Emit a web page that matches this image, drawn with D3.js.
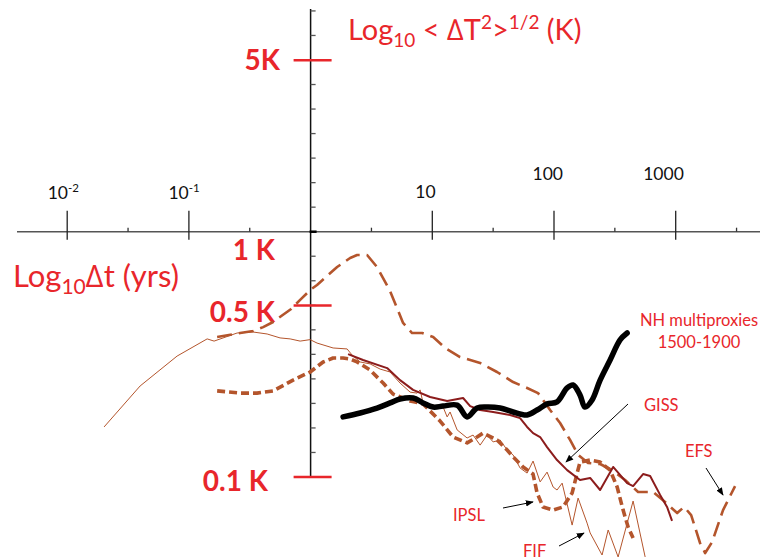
<!DOCTYPE html>
<html><head><meta charset="utf-8">
<script src="https://cdn.jsdelivr.net/npm/d3@7/dist/d3.min.js"></script>
<style>body{margin:0;background:#fff}svg{display:block}</style>
</head><body>
<svg id="chart" width="761" height="560"></svg>
<script>
// ---- Data: log10(Δt in years) and log10(RMS ΔT in K) ----
const fifLogDt = [-1.697,-1.401,-1.097,-0.850,-0.793,-0.604,-0.472,-0.357,-0.251,-0.168,-0.086,-0.004,0.053,0.185,0.300,0.341,0.407,0.489,0.571,0.653,0.735,0.818,0.875,0.900,0.924,1.007,1.089,1.122,1.146,1.204,1.286,1.335,1.393,1.450,1.500,1.557,1.615,1.664,1.721,1.779,1.828,1.886,1.943,1.993,2.025,2.067,2.149,2.198,2.272,2.297,2.395,2.445,2.527,2.650,2.749];
const fifLogT  = [-0.796,-0.629,-0.507,-0.437,-0.446,-0.413,-0.409,-0.417,-0.433,-0.437,-0.446,-0.440,-0.454,-0.474,-0.478,-0.503,-0.531,-0.539,-0.560,-0.572,-0.617,-0.654,-0.658,-0.645,-0.698,-0.707,-0.715,-0.755,-0.735,-0.808,-0.841,-0.829,-0.870,-0.829,-0.857,-0.849,-0.890,-0.910,-0.963,-0.984,-0.935,-1.020,-0.980,-1.041,-1.053,-1.025,-1.196,-1.086,-1.188,-1.228,-1.318,-1.216,-1.326,-1.098,-1.326];

const gissLogDt = [0.308,0.431,0.629,0.735,0.842,0.982,1.122,1.253,1.311,1.393,1.500,1.639,1.721,1.779,1.828,1.886,1.943,2.025,2.108,2.214,2.297,2.379,2.486,2.601,2.650,2.732,2.790,2.872,2.929,2.970];
const gissLogT  = [-0.499,-0.523,-0.556,-0.605,-0.645,-0.674,-0.690,-0.678,-0.711,-0.727,-0.735,-0.747,-0.760,-0.796,-0.821,-0.837,-0.878,-0.931,-0.972,-1.012,-1.004,-1.053,-0.959,-1.025,-1.037,-0.988,-0.996,-1.073,-1.122,-1.179];

const ipslLogDt = [-0.768,-0.579,-0.440,-0.308,-0.144,-0.004,0.103,0.185,0.267,0.325,0.382,0.489,0.596,0.678,0.818,0.924,1.064,1.171,1.286,1.368,1.417,1.532,1.615,1.664,1.746,1.828,1.861,1.910,1.993,2.075,2.149,2.190,2.214,2.297,2.379,2.461,2.519,2.568,2.609,2.650];
const ipslLogT  = [-0.649,-0.658,-0.658,-0.649,-0.605,-0.572,-0.531,-0.515,-0.515,-0.519,-0.531,-0.564,-0.617,-0.662,-0.690,-0.702,-0.772,-0.837,-0.861,-0.837,-0.821,-0.849,-0.890,-0.918,-0.959,-0.988,-1.065,-1.122,-1.135,-1.122,-1.065,-0.984,-0.939,-0.931,-0.939,-0.972,-1.041,-1.135,-1.204,-1.249];

const efsLogDt = [-0.768,-0.579,-0.472,-0.390,-0.308,-0.160,-0.086,-0.004,0.053,0.218,0.325,0.382,0.464,0.546,0.653,0.760,0.834,0.916,1.007,1.105,1.228,1.393,1.532,1.664,1.779,1.869,1.968,2.050,2.132,2.198,2.280,2.379,2.477,2.584,2.691,2.814,2.913,3.012,3.069,3.127,3.200,3.242,3.299,3.389,3.488];
const efsLogT  = [-0.429,-0.413,-0.405,-0.389,-0.368,-0.315,-0.278,-0.238,-0.217,-0.144,-0.107,-0.095,-0.095,-0.144,-0.242,-0.372,-0.413,-0.413,-0.429,-0.474,-0.511,-0.535,-0.572,-0.613,-0.637,-0.658,-0.727,-0.780,-0.849,-0.910,-0.943,-0.947,-0.972,-1.012,-1.061,-1.061,-1.102,-1.147,-1.122,-1.155,-1.269,-1.310,-1.265,-1.135,-1.037];

const nhLogDt = [0.267,0.407,0.546,0.653,0.735,0.842,0.924,1.007,1.089,1.204,1.286,1.368,1.450,1.557,1.664,1.779,1.861,1.943,2.025,2.108,2.157,2.214,2.255,2.313,2.379,2.461,2.543,2.601];
const nhLogT  = [-0.755,-0.739,-0.719,-0.698,-0.682,-0.678,-0.698,-0.715,-0.711,-0.707,-0.755,-0.719,-0.715,-0.719,-0.735,-0.747,-0.727,-0.702,-0.694,-0.637,-0.625,-0.666,-0.715,-0.686,-0.605,-0.523,-0.441,-0.413];

// ticks
const xMajorTicks = [-2, -1, 1, 2, 3];
const xTickBase   = ["10", "10", "10", "100", "1000"];
const xTickExp    = ["-2", "-1", "", "", ""];
const xMinorTicks = [-1.5, -0.5, 0.5, 1.5, 2.5, 3.5];
const yMinorTicks = d3.range(-10, 10).map(i => i / 10);
const yRedTicks   = [0.699, -0.301, -1];
const yKLabels    = ["5K", "1 K", "0.5 K", "0.1 K"];
const yKLabelVals = [0.699, 0, -0.301, -1];

// ---- Drawing ----
const RED = "#e8262b", BROWN = "#b4552c", DARKRED = "#8c1c1c";
const svg = d3.select("#chart");
const FONT = "Lato, 'Open Sans', sans-serif";
const x = d3.scaleLinear().domain([-2, 3]).range([67.2, 675.7]);
const y = d3.scaleLinear().domain([0, -1]).range([231.7, 477]);
const x0 = x(0), y0 = y(0);

// x axis line
svg.append("line").attr("x1", 17).attr("x2", 760).attr("y1", y0).attr("y2", y0)
  .attr("stroke", "#555").attr("stroke-width", 1.5);
svg.selectAll(".xmaj").data(xMajorTicks).join("line")
  .attr("x1", d => x(d)).attr("x2", d => x(d)).attr("y1", y0 - 21).attr("y2", y0 + 8)
  .attr("stroke", "#222").attr("stroke-width", 1.3);
svg.selectAll(".xmin").data(xMinorTicks).join("line")
  .attr("x1", d => x(d)).attr("x2", d => x(d)).attr("y1", y0 - 4).attr("y2", y0)
  .attr("stroke", "#333").attr("stroke-width", 1.3);

// x tick labels
const lblOffsets = {"-2": [-19.5, 199], "-1": [-20.5, 199], "1": [-17, 198], "2": [-21.5, 180], "3": [-32.5, 180]};
xMajorTicks.forEach((v, i) => {
  const o = lblOffsets[String(v)];
  const t = svg.append("text").attr("x", x(v) + o[0]).attr("y", o[1])
    .attr("font-family", FONT).attr("font-size", 17.5).attr("fill", "#111").text(xTickBase[i]);
  if (xTickExp[i]) t.append("tspan").attr("font-size", 11.5).attr("dy", -7).text(xTickExp[i]);
});

// y axis line
svg.append("line").attr("x1", x0).attr("x2", x0).attr("y1", 9).attr("y2", 478)
  .attr("stroke", "#111").attr("stroke-width", 1.5);
svg.selectAll(".ymin").data(yMinorTicks).join("line")
  .attr("x1", x0).attr("x2", x0 + 5).attr("y1", d => y(d)).attr("y2", d => y(d))
  .attr("stroke", "#555").attr("stroke-width", 1.3);
svg.append("line").attr("x1", x0 - 1).attr("x2", x0 + 6).attr("y1", y0).attr("y2", y0)
  .attr("stroke", "#000").attr("stroke-width", 2.5);
svg.selectAll(".yred").data(yRedTicks).join("line")
  .attr("x1", x0 - 17).attr("x2", x0 + 21).attr("y1", d => y(d)).attr("y2", d => y(d))
  .attr("stroke", RED).attr("stroke-width", 2.5);

const kLabelX = [280, 275, 275, 268];
const kLabelDy = [10, 28, 16, 14];
yKLabels.forEach((s, i) => {
  svg.append("text").attr("x", kLabelX[i]).attr("y", y(yKLabelVals[i]) + kLabelDy[i])
    .attr("text-anchor", "end").attr("font-family", FONT).attr("font-weight", "bold")
    .attr("font-size", 28).attr("fill", RED).text(s);
});

// axis titles
const yt = svg.append("text").attr("x", 348).attr("y", 40).attr("font-family", FONT)
  .attr("font-size", 29).attr("fill", RED);
yt.append("tspan").text("Log");
yt.append("tspan").attr("font-size", 19).attr("dy", 7).text("10");
yt.append("tspan").attr("dy", -7).text(" < \u2206T");
yt.append("tspan").attr("font-size", 19).attr("dy", -11).text("2");
yt.append("tspan").attr("dy", 11).text(">");
yt.append("tspan").attr("font-size", 19).attr("dy", -11).text("1/2");
yt.append("tspan").attr("dy", 11).text(" (K)");

const xt = svg.append("text").attr("x", 13).attr("y", 287).attr("font-family", FONT)
  .attr("font-size", 31).attr("fill", RED);
xt.append("tspan").text("Log");
xt.append("tspan").attr("font-size", 21).attr("dy", 7).text("10");
xt.append("tspan").attr("dy", -7).text("\u2206t (yrs)");

// series
const line = d3.line().x(d => x(d[0])).y(d => y(d[1]));
const smooth = d3.line().x(d => x(d[0])).y(d => y(d[1])).curve(d3.curveCatmullRom.alpha(0.5));
function draw(dt, t, gen, stroke, width, dash, cap) {
  svg.append("path").attr("d", gen(d3.zip(dt, t))).attr("fill", "none")
    .attr("stroke", stroke).attr("stroke-width", width)
    .attr("stroke-dasharray", dash || null).attr("stroke-linecap", cap || "butt")
    .attr("stroke-linejoin", "round");
}
draw(fifLogDt, fifLogT, line, BROWN, 1, null);
draw(efsLogDt, efsLogT, line, BROWN, 2.6, "15,7");
draw(ipslLogDt, ipslLogT, line, BROWN, 3.6, "8,4");
draw(gissLogDt, gissLogT, line, DARKRED, 2, null);
draw(nhLogDt, nhLogT, smooth, "#000", 5.5, null, "round");

// annotations
function label(txt, xx, yy, anchor) {
  svg.append("text").attr("x", xx).attr("y", yy).attr("text-anchor", anchor || "start")
    .attr("font-family", FONT).attr("font-size", 16.5).attr("fill", RED).text(txt);
}
label("NH multiproxies", 699, 326, "middle");
label("1500-1900", 699, 348, "middle");
label("GISS", 644, 411);
label("EFS", 685, 457);
label("IPSL", 453, 521);
label("FIF", 523, 557);

const defs = svg.append("defs");
defs.append("marker").attr("id", "ah").attr("viewBox", "0 0 10 10").attr("refX", 9).attr("refY", 5)
  .attr("markerWidth", 8).attr("markerHeight", 8).attr("orient", "auto-start-reverse")
  .append("path").attr("d", "M0,1 L10,5 L0,9 z").attr("fill", "#000");
const arrows = [[628, 404, 566, 462], [706, 468, 723, 495], [503, 508, 533, 502], [559, 546, 584, 533]];
arrows.forEach(a => svg.append("line").attr("x1", a[0]).attr("y1", a[1]).attr("x2", a[2]).attr("y2", a[3])
  .attr("stroke", "#000").attr("stroke-width", 1).attr("marker-end", "url(#ah)"));
</script>
</body></html>
